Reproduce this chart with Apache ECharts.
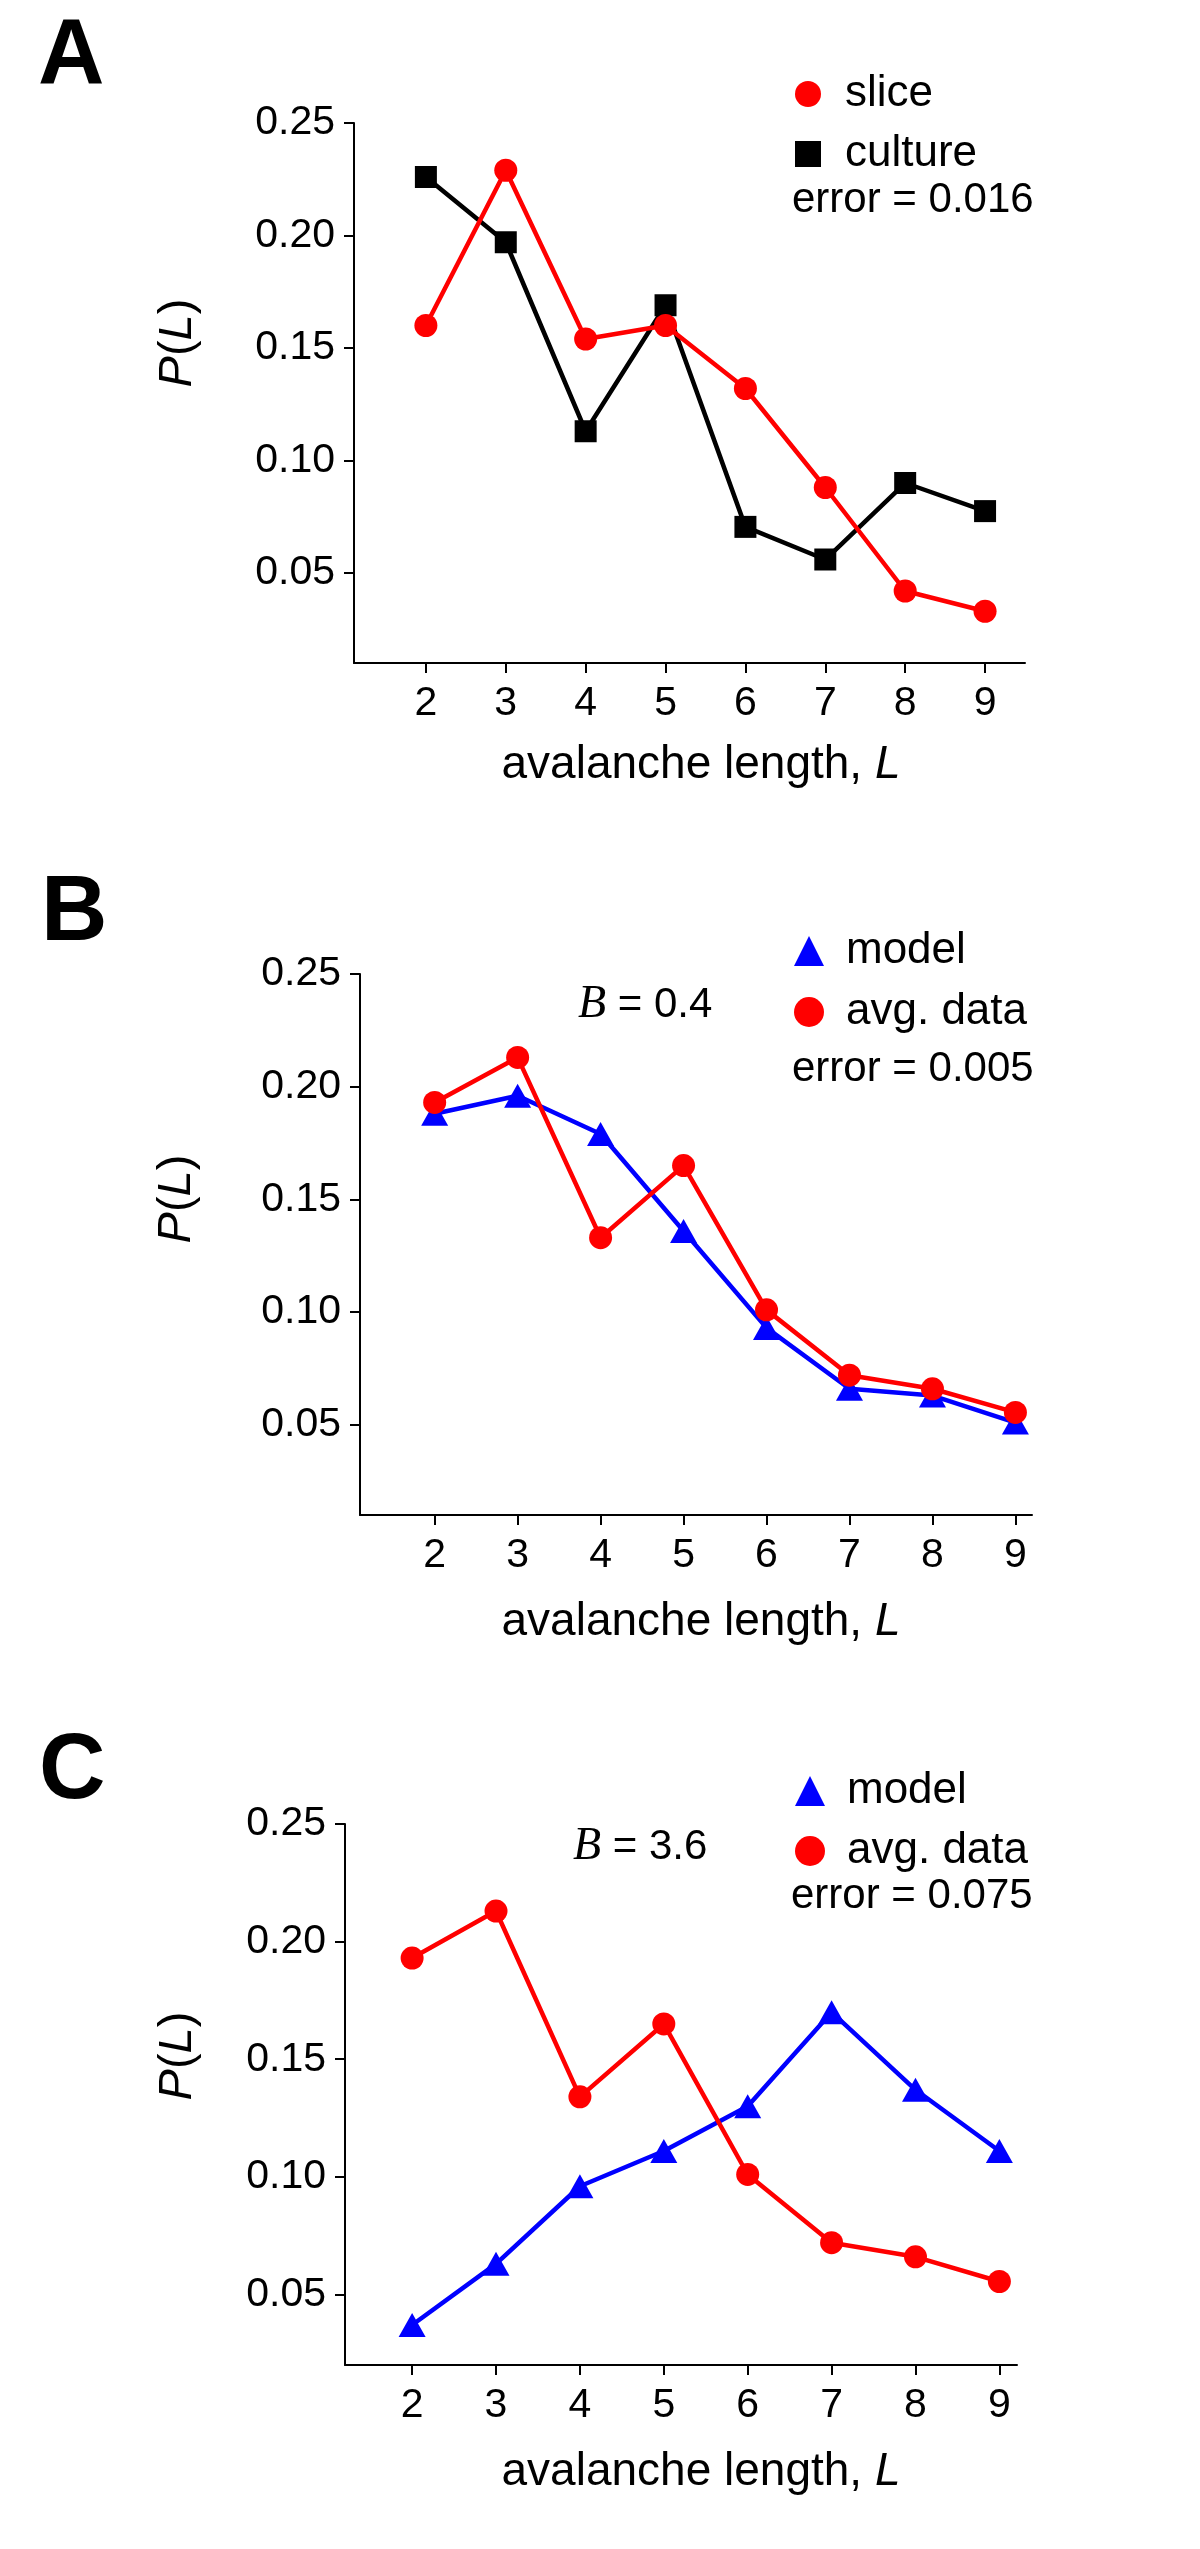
<!DOCTYPE html>
<html>
<head>
<meta charset="utf-8">
<style>
  html, body { margin: 0; padding: 0; background: #fff; }
  #chart { width: 1200px; height: 2549px; }
</style>
<script src="https://cdn.jsdelivr.net/npm/echarts@6/dist/echarts.min.js"></script>
</head>
<body>
<div id="chart"></div>
<script>
// ---------- data ----------
const lengths = [2, 3, 4, 5, 6, 7, 8, 9];
const sliceA   = [0.160, 0.229, 0.154, 0.160, 0.132, 0.088, 0.042, 0.033];
const cultureA = [0.226, 0.197, 0.113, 0.169, 0.0705, 0.056, 0.090, 0.0775];
const modelB   = [0.188, 0.196, 0.179, 0.136, 0.093, 0.066, 0.063, 0.051];
const avgDataB = [0.193, 0.213, 0.133, 0.165, 0.101, 0.072, 0.066, 0.0555];
const modelC   = [0.037, 0.063, 0.096, 0.111, 0.130, 0.170, 0.137, 0.111];
const avgDataC = [0.193, 0.213, 0.134, 0.165, 0.101, 0.072, 0.066, 0.0555];
const yTicks = [0.05, 0.10, 0.15, 0.20, 0.25];
const xTicks = [2, 3, 4, 5, 6, 7, 8, 9];
const panelLetters = ['A', 'B', 'C'];
const errorTexts = ['error = 0.016', 'error = 0.005', 'error = 0.075'];
const bTexts = ['0.4', '3.6'];

const pairs = arr => lengths.map((x, i) => [x, arr[i]]);
const FONT = '"Liberation Sans", Arial, Helvetica, sans-serif';
const RED = '#ff0000', BLUE = '#0000ff', BLACK = '#000000';

const grids = [
  { left: 354, top: 123, width: 671, height: 540 },
  { left: 360, top: 974, width: 672, height: 541 },
  { left: 345, top: 1824, width: 672, height: 541 }
];
const xRanges = [[1.1, 9.5], [1.1, 9.2], [1.2, 9.21]];
const yRanges = [[0.01, 0.25], [0.01, 0.25], [0.02, 0.25]];

const axisLineStyle = { lineStyle: { color: BLACK, width: 2 } };

const xAxes = grids.map((g, i) => ({
  type: 'value', gridIndex: i, min: xRanges[i][0], max: xRanges[i][1],
  axisLine: { show: true, onZero: false, ...axisLineStyle },
  axisTick: { show: true, length: 10, customValues: xTicks, lineStyle: { color: BLACK, width: 2 } },
  axisLabel: { customValues: xTicks, color: BLACK, fontSize: 41, fontFamily: FONT, margin: 20 },
  splitLine: { show: false }
}));
const yAxes = grids.map((g, i) => ({
  type: 'value', gridIndex: i, min: yRanges[i][0], max: yRanges[i][1],
  axisLine: { show: true, onZero: false, ...axisLineStyle },
  axisTick: { show: true, length: 10, customValues: yTicks, lineStyle: { color: BLACK, width: 2 } },
  axisLabel: { customValues: yTicks, color: BLACK, fontSize: 41, fontFamily: FONT, margin: 19,
               formatter: v => v.toFixed(2) },
  splitLine: { show: false }
}));

function lineSeries(name, data, idx, color, symbol, size) {
  return {
    name, type: 'line', xAxisIndex: idx, yAxisIndex: idx, data: pairs(data),
    symbol, symbolSize: size, showSymbol: true,
    lineStyle: { color, width: 4.5 }, itemStyle: { color },
    emphasis: { disabled: true }, animation: false, z: 3
  };
}

const series = [
  lineSeries('culture', cultureA, 0, BLACK, 'rect', 22),
  lineSeries('slice', sliceA, 0, RED, 'circle', 23),
  lineSeries('model', modelB, 1, BLUE, 'triangle', [27, 24]),
  lineSeries('avg. data', avgDataB, 1, RED, 'circle', 23),
  lineSeries('model', modelC, 2, BLUE, 'triangle', [27, 24]),
  lineSeries('avg. data', avgDataC, 2, RED, 'circle', 23)
];

const legendText = { color: BLACK, fontSize: 44, fontFamily: FONT, lineHeight: 42, padding: [0, 0, 0, 19] };
const legends = [
  { left: 790, top: 67, orient: 'vertical', itemWidth: 26, itemHeight: 26, itemGap: 16,
    selectedMode: false, textStyle: legendText,
    data: [{ name: 'slice', icon: 'circle' }, { name: 'culture', icon: 'rect' }] },
  { left: 789, top: 924, orient: 'vertical', itemWidth: 30, itemHeight: 30, itemGap: 17,
    selectedMode: false, textStyle: { ...legendText, padding: [0, 0, 0, 17] },
    data: [{ name: 'model', icon: 'triangle' }, { name: 'avg. data', icon: 'circle' }] },
  { left: 790, top: 1764, orient: 'vertical', itemWidth: 30, itemHeight: 30, itemGap: 16,
    selectedMode: false, textStyle: { ...legendText, padding: [0, 0, 0, 17] },
    data: [{ name: 'model', icon: 'triangle' }, { name: 'avg. data', icon: 'circle' }] }
];

// text annotations
const letterPos = [[38, 58], [41, 915], [39, 1773]];
const yTitlePos = [[178, 343], [177, 1199], [178, 2056]];
const xTitlePos = [[701, 765], [701, 1622], [701, 2472]];
const errorPos = [[792, 200], [792, 1069], [791, 1896]];
const bPos = [[578, 1005], [573, 1847]];

const graphic = [];
panelLetters.forEach((t, i) => graphic.push({
  type: 'text', x: letterPos[i][0], y: letterPos[i][1],
  style: { text: t, fill: BLACK, font: 'bold 92px ' + FONT, align: 'left', verticalAlign: 'middle' }
}));
yTitlePos.forEach(p => graphic.push({
  type: 'text', x: p[0], y: p[1], rotation: Math.PI / 2,
  style: {
    text: '{i|P}{n|(}{i|L}{n|)}', align: 'center', verticalAlign: 'middle', fill: BLACK,
    rich: {
      i: { fontStyle: 'italic', fontSize: 47, fontFamily: FONT, fill: BLACK },
      n: { fontSize: 47, fontFamily: FONT, fill: BLACK }
    }
  }
}));
xTitlePos.forEach(p => graphic.push({
  type: 'text', x: p[0], y: p[1],
  style: {
    text: '{n|avalanche length, }{i|L}', align: 'center', verticalAlign: 'middle', fill: BLACK,
    rich: {
      i: { fontStyle: 'italic', fontSize: 46, fontFamily: FONT, fill: BLACK },
      n: { fontSize: 46, fontFamily: FONT, fill: BLACK }
    }
  }
}));
errorTexts.forEach((t, i) => graphic.push({
  type: 'text', x: errorPos[i][0], y: errorPos[i][1],
  style: { text: t, fill: BLACK, font: '42px ' + FONT, align: 'left', verticalAlign: 'middle' }
}));
bTexts.forEach((t, i) => graphic.push({
  type: 'text', x: bPos[i][0], y: bPos[i][1],
  style: {
    text: '{b|B}{n| = ' + t + '}', align: 'left', verticalAlign: 'middle', fill: BLACK,
    rich: {
      b: { fontStyle: 'italic', fontSize: 46, fontFamily: '"Liberation Serif", "Times New Roman", serif', fill: BLACK },
      n: { fontSize: 42, fontFamily: FONT, fill: BLACK }
    }
  }
}));

const chart = echarts.init(document.getElementById('chart'), null, { renderer: 'canvas' });
chart.setOption({
  backgroundColor: '#ffffff',
  animation: false,
  grid: grids.map(g => ({ ...g, containLabel: false })),
  xAxis: xAxes,
  yAxis: yAxes,
  legend: legends,
  series,
  graphic
});
</script>
</body>
</html>
